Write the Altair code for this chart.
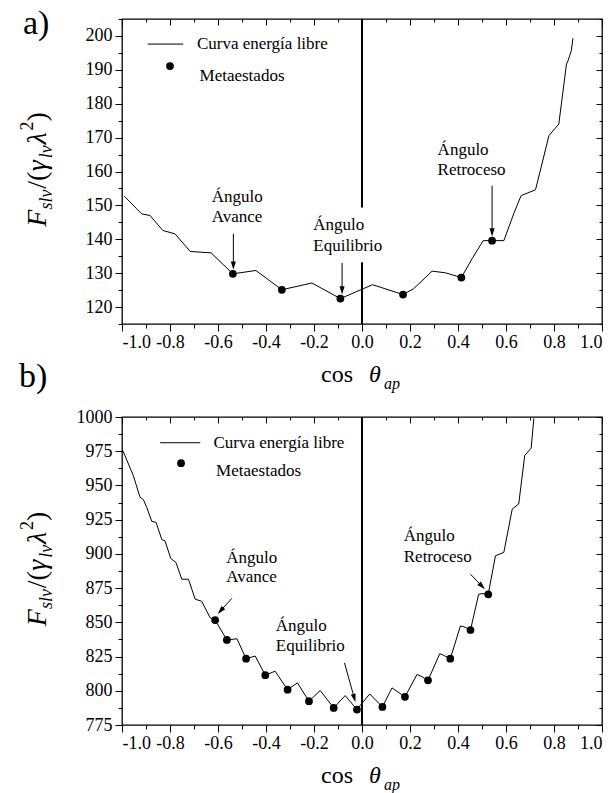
import math
import altair as alt
import pandas as pd

# ---------------- data ----------------
a_curve_x = [-0.990, -0.939, -0.918, -0.883, -0.830, -0.779, -0.716, -0.629, -0.538, -0.442,
             -0.334, -0.209, -0.090, 0.044, 0.171, 0.215, 0.292, 0.348, 0.414, 0.459,
             0.505, 0.542, 0.591, 0.632, 0.663, 0.723, 0.779, 0.820, 0.852, 0.858,
             0.872, 0.879]
a_curve_y = [152.7, 149.0, 147.5, 147.0, 142.6, 141.6, 136.4, 136.0, 129.8, 130.8,
             125.1, 127.1, 122.5, 126.6, 123.7, 125.4, 130.6, 130.1, 128.7, 134.3,
             139.6, 139.6, 139.6, 147.5, 152.9, 154.6, 170.6, 174.0, 191.7, 192.6,
             195.6, 199.3]
a_meta_x = [-0.538, -0.334, -0.090, 0.171, 0.414, 0.542]
a_meta_y = [129.8, 125.1, 122.5, 123.7, 128.7, 139.6]

b_curve_x = [-0.997, -0.953, -0.925, -0.911, -0.897, -0.876, -0.858, -0.834, -0.821, -0.797,
             -0.775, -0.751, -0.723, -0.695, -0.668, -0.633, -0.612, -0.563, -0.521, -0.483,
             -0.445, -0.403, -0.362, -0.310, -0.269, -0.221, -0.174, -0.118, -0.070, -0.021,
             0.032, 0.085, 0.125, 0.179, 0.229, 0.250, 0.275, 0.324, 0.341, 0.368,
             0.410, 0.424, 0.452, 0.486, 0.500, 0.526, 0.556, 0.591, 0.626, 0.653,
             0.678, 0.705, 0.716]
b_curve_y = [975.6, 957.3, 941.4, 939.7, 934.0, 923.8, 923.0, 910.4, 909.6, 896.7,
             893.7, 881.5, 881.5, 866.9, 865.4, 853.4, 851.7, 837.1, 838.0, 823.4,
             825.4, 811.4, 814.3, 800.8, 805.8, 792.4, 800.2, 787.5, 796.5, 786.3,
             797.7, 788.2, 802.1, 795.6, 811.9, 810.3, 807.6, 827.1, 825.8, 823.4,
             847.3, 846.8, 844.4, 870.5, 871.0, 870.5, 898.6, 901.1, 932.8, 936.5,
             971.9, 977.3, 999.0]
b_meta_x = [-0.612, -0.563, -0.483, -0.403, -0.310, -0.221, -0.118, -0.021, 0.085, 0.179,
            0.275, 0.368, 0.452, 0.526]
b_meta_y = [851.7, 837.1, 823.4, 811.4, 800.8, 792.4, 787.5, 786.3, 788.2, 795.6,
            807.6, 823.4, 844.4, 870.5]

x_major = [-1.0, -0.8, -0.6, -0.4, -0.2, 0.0, 0.2, 0.4, 0.6, 0.8, 1.0]
x_minor = [-0.9, -0.7, -0.5, -0.3, -0.1, 0.1, 0.3, 0.5, 0.7, 0.9]
a_y_major = [120, 130, 140, 150, 160, 170, 180, 190, 200]
a_y_minor = [115, 125, 135, 145, 155, 165, 175, 185, 195, 205]
b_y_major = [775, 800, 825, 850, 875, 900, 925, 950, 975, 1000]
b_y_minor = [787.5, 812.5, 837.5, 862.5, 887.5, 912.5, 937.5, 962.5, 987.5]

legend_labels = ["Curva energía libre", "Metaestados"]
annot_words = ["Ángulo", "Avance", "Equilibrio", "Retroceso"]

FONT = "Liberation Serif"
W = 480
XDOM = [-1.0, 1.0]
XLABEL = "(datum.value < -0.001 ? '-' : '') + format(abs(datum.value), '.1f')"
LBL = dict(labelFont=FONT, labelFontSize=18, labelColor="black", tickColor="black",
           tickWidth=1, domain=False, grid=False, title=None)


def arrow_layers(arrows, xs, ys, kx, ky):
    """arrows: list of (x_start, y_start, x_tip, y_tip) in data units."""
    rows, heads = [], []
    for xs0, ys0, xt, yt in arrows:
        dx = (xt - xs0) * kx
        dy = -(yt - ys0) * ky
        L = math.hypot(dx, dy)
        ux, uy = dx / L, dy / L
        ang = math.degrees(math.atan2(dx, -dy)) % 360
        hx = xt - ux * 4.5 / kx
        hy = yt + uy * 4.5 / ky
        rows.append({"x": xs0, "y": ys0, "x2": hx, "y2": hy})
        heads.append({"x": hx, "y": hy, "a": ang})
    line = alt.Chart(pd.DataFrame(rows)).mark_rule(color="black", strokeWidth=1).encode(
        x=alt.X("x:Q", scale=xs, axis=None), y=alt.Y("y:Q", scale=ys, axis=None),
        x2="x2:Q", y2="y2:Q")
    head = alt.Chart(pd.DataFrame(heads)).mark_point(
        shape="M0,-1L0.6,1L-0.6,1Z", filled=True, color="black", opacity=1, size=70,
        strokeWidth=0).encode(
        x=alt.X("x:Q", scale=xs, axis=None), y=alt.Y("y:Q", scale=ys, axis=None),
        angle=alt.Angle("a:Q", scale=None))
    return [line, head]


def text_at(label, px, py, size, italic=False, angle=0, align="left", baseline="alphabetic"):
    kw = dict(font=FONT, fontSize=size, color="black", align=align, baseline=baseline)
    if italic:
        kw["fontStyle"] = "italic"
    if angle:
        kw["angle"] = angle
    return alt.Chart(pd.DataFrame({"t": [label]})).mark_text(**kw).encode(
        text="t:N", x=alt.value(px), y=alt.value(py))


def ytitle_layers(H, xbase):
    pieces = [("F", 28, True, 0, 0.62), ("slv", 18, True, 6, 1.15), ("/(", 28, False, 0, 0.62),
              ("γ", 28, True, 0, 0.47), ("lv", 18, True, 6, 0.76), ("λ", 28, True, 0, 0.5),
              ("2", 18, False, -13, 0.5), (")", 28, False, 0, 0.333)]
    total = sum(p[1] * p[4] for p in pieces)
    y0 = H / 2 + total / 2 - 2
    out = []
    for txt, size, ital, shift, em in pieces:
        out.append(text_at(txt, xbase + shift, y0, size, italic=ital, angle=270))
        y0 -= size * em
    return out


def panel(cx, cy, mx, my, ydom, ymaj, ymin, H, annots, arrows, legend, zero_segs, tag):
    xs = alt.Scale(domain=XDOM, nice=False, zero=False)
    ys = alt.Scale(domain=ydom, nice=False, zero=False)
    kx = W / (XDOM[1] - XDOM[0])
    ky = H / (ydom[1] - ydom[0])
    curve = pd.DataFrame({"x": cx, "y": cy})
    meta = pd.DataFrame({"x": mx, "y": my})

    def axlayer(xv, yv, size, labels, xoff, yoff):
        return alt.Chart(curve).mark_point(opacity=0).encode(
            x=alt.X("x:Q", scale=xs, axis=alt.Axis(
                orient="bottom", values=xv, tickSize=size, labels=labels, labelExpr=XLABEL,
                labelPadding=2, offset=xoff, **LBL)),
            y=alt.Y("y:Q", scale=ys, axis=alt.Axis(
                orient="left", values=yv, tickSize=size, labels=labels, format="d",
                labelPadding=3, offset=yoff, **LBL)))

    layers = [
        axlayer(x_major, ymaj, 7, True, 0, 0),
        axlayer(x_minor, ymin, 4, False, 0, 0),
        axlayer(x_major, ymaj, 6, False, -H, -W),
        axlayer(x_minor, ymin, 3, False, -H, -W),
    ]
    zero = alt.Chart(pd.DataFrame(zero_segs)).mark_rule(color="black", strokeWidth=2).encode(
        x=alt.X("x:Q", scale=xs, axis=None), y=alt.Y("y:Q", scale=ys, axis=None), y2="y2:Q")
    line = alt.Chart(curve).mark_line(color="black", strokeWidth=1).encode(
        x=alt.X("x:Q", scale=xs, axis=None), y=alt.Y("y:Q", scale=ys, axis=None))
    dots = alt.Chart(meta).mark_circle(color="black", opacity=1, size=60).encode(
        x=alt.X("x:Q", scale=xs, axis=None), y=alt.Y("y:Q", scale=ys, axis=None))
    ann = alt.Chart(pd.DataFrame(annots)).mark_text(
        font=FONT, fontSize=17, color="black", align="left", baseline="alphabetic").encode(
        x=alt.X("x:Q", scale=xs, axis=None), y=alt.Y("y:Q", scale=ys, axis=None), text="t:N")
    (lx1, lx2, ly), (tx, ty), (dx_, dy_), (t2x, t2y) = legend
    leg_line = alt.Chart(pd.DataFrame({"x": [lx1], "x2": [lx2], "y": [ly]})).mark_rule(
        color="black", strokeWidth=1).encode(
        x=alt.X("x:Q", scale=xs, axis=None), x2="x2:Q", y=alt.Y("y:Q", scale=ys, axis=None))
    leg_dot = alt.Chart(pd.DataFrame({"x": [dx_], "y": [dy_]})).mark_circle(
        color="black", opacity=1, size=60).encode(
        x=alt.X("x:Q", scale=xs, axis=None), y=alt.Y("y:Q", scale=ys, axis=None))
    leg_txt = alt.Chart(pd.DataFrame({"x": [tx, t2x], "y": [ty, t2y], "t": legend_labels})).mark_text(
        font=FONT, fontSize=17, color="black", align="left", baseline="middle").encode(
        x=alt.X("x:Q", scale=xs, axis=None), y=alt.Y("y:Q", scale=ys, axis=None), text="t:N")

    layers += [zero, line, dots, ann, leg_line, leg_dot, leg_txt]
    layers += arrow_layers(arrows, xs, ys, kx, ky)
    # x title  cos θ_ap
    layers += [text_at("cos", 199, H + 58, 24), text_at("θ", 247, H + 58, 24, italic=True),
               text_at("ap", 262, H + 65, 16, italic=True)]
    layers += ytitle_layers(H, -76)
    if tag == "a)":
        layers.append(text_at(tag, -99, 15, 34))
    else:
        layers.append(text_at(tag, -103, -30, 34))
    return alt.layer(*layers).resolve_axis(x="independent", y="independent").properties(
        width=W, height=H)


A, E, R, AV = annot_words[0], annot_words[2], annot_words[3], annot_words[1]

pa = panel(
    a_curve_x, a_curve_y, a_meta_x, a_meta_y, [115, 205], a_y_major, a_y_minor, 305,
    annots=[{"x": -0.626, "y": 150.9, "t": A}, {"x": -0.626, "y": 145.0, "t": AV},
            {"x": -0.203, "y": 142.6, "t": A}, {"x": -0.203, "y": 136.5, "t": E},
            {"x": 0.315, "y": 165.0, "t": A}, {"x": 0.315, "y": 159.1, "t": R}],
    arrows=[(-0.536, 141.6, -0.536, 130.9), (-0.083, 133.0, -0.083, 123.6),
            (0.542, 155.8, 0.542, 140.7)],
    legend=((-0.893, -0.745, 197.6), (-0.688, 197.6), (-0.800, 191.1), (-0.677, 188.2)),
    zero_segs=[{"x": 0.0, "y": 205.0, "y2": 149.4}, {"x": 0.0, "y": 133.2, "y2": 115.0}],
    tag="a)")

pb = panel(
    b_curve_x, b_curve_y, b_meta_x, b_meta_y, [775, 1000], b_y_major, b_y_minor, 308,
    annots=[{"x": -0.566, "y": 893.7, "t": A}, {"x": -0.566, "y": 879.1, "t": AV},
            {"x": -0.359, "y": 843.7, "t": A}, {"x": -0.359, "y": 829.0, "t": E},
            {"x": 0.174, "y": 909.6, "t": A}, {"x": 0.174, "y": 894.2, "t": R}],
    arrows=[(-0.542, 867.6, -0.602, 856.0), (-0.073, 820.4, -0.027, 791.5),
            (0.452, 885.2, 0.513, 874.0)],
    legend=((-0.841, -0.674, 981.2), (-0.619, 981.2), (-0.754, 966.3), (-0.608, 960.9)),
    zero_segs=[{"x": 0.0, "y": 1000.0, "y2": 775.0}],
    tag="b)")

chart = alt.vconcat(pa, pb, spacing=93, bounds="flush").properties(
    padding={"left": 18, "top": 6, "right": 5, "bottom": 5}
).configure_view(stroke="black", strokeWidth=1.3)

chart.save("out.html", embed_options={"renderer": "svg", "actions": False})
